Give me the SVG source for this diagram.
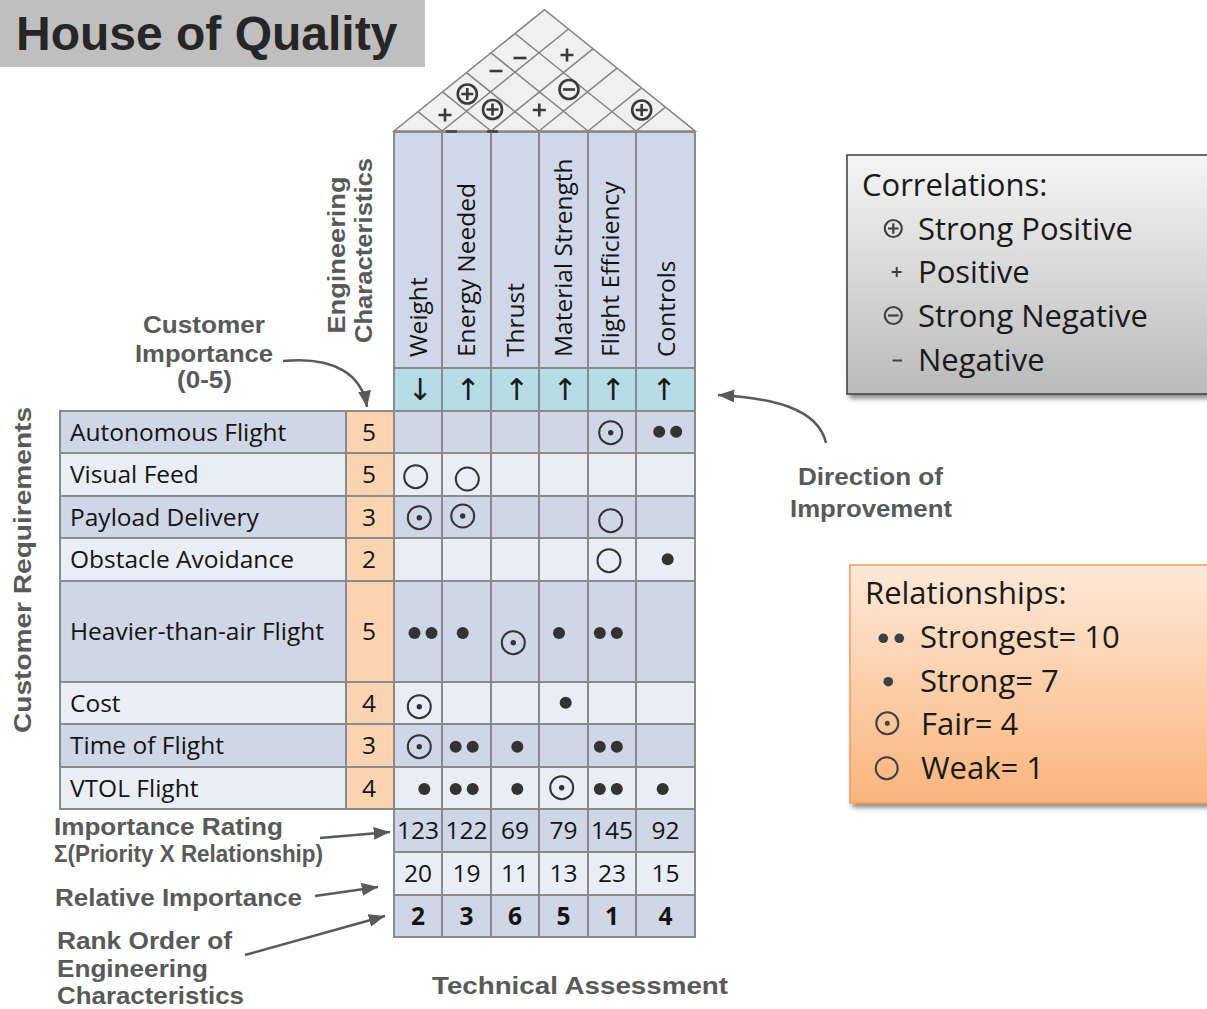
<svg xmlns="http://www.w3.org/2000/svg" width="1207" height="1009" viewBox="0 0 1207 1009">
<defs>
<style>
.grid{stroke:#8a8a8a;stroke-width:2;fill:none}
.dark{fill:#cfd6e6}
.light{fill:#e9edf5}
.peach{fill:#fcd3b1}
.t{font-family:"Open Sans","Noto Sans","DejaVu Sans",sans-serif;font-size:24.5px;fill:#141414}
.num{text-anchor:middle}
.b{font-weight:bold}
.lbl{font-family:"Liberation Sans",Arial,sans-serif;font-weight:bold;font-size:24px;fill:#595959}
.mid{text-anchor:middle}
.leg{font-family:"Open Sans","Noto Sans",sans-serif;font-size:31px;fill:#1a1a1a}
.sym{fill:none;stroke:#333;stroke-width:2}
.sdot{fill:#333}
.conn{fill:none;stroke:#595959;stroke-width:2.5;marker-end:url(#ah)}
.roof{fill:#f0f0f0;stroke:#858585;stroke-width:1.6}
.rl{stroke:#858585;stroke-width:1.6;fill:none}
.rs{fill:none;stroke:#3a3a3a;stroke-width:2.6}
.ls{fill:none;stroke:#404040;stroke-width:2.2}
.arr{font-family:"DejaVu Sans",sans-serif;font-size:30px;fill:#1a1a1a;text-anchor:middle}
</style>
<marker id="ah" viewBox="0 0 10 8" refX="10" refY="4" markerWidth="6.5" markerHeight="5.2" orient="auto" markerUnits="strokeWidth"><path d="M0,0 L10,4 L0,8 z" fill="#595959"/></marker>
<linearGradient id="gg" x1="0" y1="0" x2="0" y2="1"><stop offset="0" stop-color="#f5f5f5"/><stop offset="1" stop-color="#bababa"/></linearGradient>
<linearGradient id="og" x1="0" y1="0" x2="0" y2="1"><stop offset="0" stop-color="#fde9d9"/><stop offset="1" stop-color="#fab47c"/></linearGradient>
<filter id="sh" x="-5%" y="-5%" width="115%" height="120%"><feDropShadow dx="3" dy="4" stdDeviation="2.5" flood-color="#000" flood-opacity="0.45"/></filter>
<g id="fair"><circle r="11.5" class="sym"/><circle r="2.7" class="sdot"/></g>
<circle id="weak" r="11.5" class="sym"/>
<circle id="dot" r="6" class="sdot"/>
<g id="dots"><circle cx="-8.5" r="6" class="sdot"/><circle cx="8.5" r="6" class="sdot"/></g>
<g id="splus"><circle r="9.5" class="rs"/><path d="M-6,0H6M0,-6V6" class="rs"/></g>
<g id="sminus"><circle r="9.5" class="rs"/><path d="M-6,0H6" class="rs"/></g>
<path id="plus" d="M-6.5,0H6.5M0,-6.5V6.5" class="rs"/>
<path id="minus" d="M-6.5,0H6.5" class="rs"/>
</defs>

<rect width="1207" height="1009" fill="#ffffff"/>

<g id="title">
<rect x="0" y="0" width="425" height="67" fill="#bfbfbf"/>
<text x="16" y="50" font-family="Liberation Sans, Arial, sans-serif" font-weight="bold" font-size="48" fill="#262626">House of Quality</text>
</g>

<g id="roof">
<polygon points="394,131 544.5,9.7 695,131" class="roof"/>
<path class="rl" d="M442,131L568.5,29M491,131L593,48.8M539,131L617,68.1M588,131L641.5,87.9M636,131L665.5,107.2M442,131L418,111.7M491,131L442.5,91.9M539,131L466.5,72.6M588,131L491,52.8M636,131L515,33.5"/>
<use href="#splus" x="467.3" y="94"/>
<use href="#splus" x="492.5" y="109.5"/>
<use href="#plus" x="445" y="115"/>
<use href="#minus" x="496" y="71"/>
<use href="#minus" x="520" y="58"/>
<use href="#plus" x="567" y="55"/>
<use href="#sminus" x="569" y="89.5"/>
<use href="#plus" x="539.3" y="110"/>
<use href="#splus" x="641.7" y="110"/>
</g>

<g id="engineering-characteristics">
<rect x="394" y="132" width="301" height="236" fill="#d0d7e8"/>
<rect x="394" y="368" width="301" height="43" fill="#b6dde6"/>
<text class="t" transform="translate(426.5,357) rotate(-90)">Weight</text>
<text class="t" transform="translate(475,357) rotate(-90)">Energy Needed</text>
<text class="t" transform="translate(523.5,357) rotate(-90)">Thrust</text>
<text class="t" transform="translate(571.5,357) rotate(-90)">Material Strength</text>
<text class="t" transform="translate(619,357) rotate(-90)">Flight Efficiency</text>
<text class="t" transform="translate(674.5,357) rotate(-90)">Controls</text>
<text class="arr" x="420" y="399.5">↓</text>
<text class="arr" x="468" y="399.5">↑</text>
<text class="arr" x="516.5" y="399.5">↑</text>
<text class="arr" x="565" y="399.5">↑</text>
<text class="arr" x="613" y="399.5">↑</text>
<text class="arr" x="664" y="399.5">↑</text>
</g>

<g id="req-autonomous-flight">
<rect x="60" y="411" width="286" height="42" class="dark"/>
<rect x="346" y="411" width="48" height="42" class="peach"/>
<rect x="394" y="411" width="301" height="42" class="dark"/>
<text x="70" y="440.5" class="t">Autonomous Flight</text>
<text x="369" y="440.5" class="t num">5</text>
<use href="#fair" x="610.7" y="432.7"/>
<use href="#dots" x="667.7" y="431.7"/>
</g>
<g id="req-visual-feed">
<rect x="60" y="453" width="286" height="43" class="light"/>
<rect x="346" y="453" width="48" height="43" class="peach"/>
<rect x="394" y="453" width="301" height="43" class="light"/>
<text x="70" y="483" class="t">Visual Feed</text>
<text x="369" y="483" class="t num">5</text>
<use href="#weak" x="415.7" y="476.7"/>
<use href="#weak" x="467.3" y="479"/>
</g>
<g id="req-payload-delivery">
<rect x="60" y="496" width="286" height="42" class="dark"/>
<rect x="346" y="496" width="48" height="42" class="peach"/>
<rect x="394" y="496" width="301" height="42" class="dark"/>
<text x="70" y="525.5" class="t">Payload Delivery</text>
<text x="369" y="525.5" class="t num">3</text>
<use href="#fair" x="419.3" y="517.7"/>
<use href="#fair" x="462.7" y="516"/>
<use href="#weak" x="610.7" y="520.7"/>
</g>
<g id="req-obstacle-avoidance">
<rect x="60" y="538" width="286" height="43" class="light"/>
<rect x="346" y="538" width="48" height="43" class="peach"/>
<rect x="394" y="538" width="301" height="43" class="light"/>
<text x="70" y="568" class="t">Obstacle Avoidance</text>
<text x="369" y="568" class="t num">2</text>
<use href="#weak" x="609" y="560.7"/>
<use href="#dot" x="667.7" y="559.3"/>
</g>
<g id="req-heavier-than-air-flight">
<rect x="60" y="581" width="286" height="101" class="dark"/>
<rect x="346" y="581" width="48" height="101" class="peach"/>
<rect x="394" y="581" width="301" height="101" class="dark"/>
<text x="70" y="640" class="t">Heavier-than-air Flight</text>
<text x="369" y="640" class="t num">5</text>
<use href="#dots" x="423" y="633"/>
<use href="#dot" x="462.7" y="633"/>
<use href="#fair" x="513.3" y="642.7"/>
<use href="#dot" x="559" y="633"/>
<use href="#dots" x="608.3" y="633"/>
</g>
<g id="req-cost">
<rect x="60" y="682" width="286" height="42" class="light"/>
<rect x="346" y="682" width="48" height="42" class="peach"/>
<rect x="394" y="682" width="301" height="42" class="light"/>
<text x="70" y="711.5" class="t">Cost</text>
<text x="369" y="711.5" class="t num">4</text>
<use href="#fair" x="419.3" y="706.7"/>
<use href="#dot" x="565.7" y="702.7"/>
</g>
<g id="req-time-of-flight">
<rect x="60" y="724" width="286" height="43" class="dark"/>
<rect x="346" y="724" width="48" height="43" class="peach"/>
<rect x="394" y="724" width="301" height="43" class="dark"/>
<text x="70" y="754" class="t">Time of Flight</text>
<text x="369" y="754" class="t num">3</text>
<use href="#fair" x="419.3" y="746.7"/>
<use href="#dots" x="464.2" y="746.7"/>
<use href="#dot" x="517.3" y="746.7"/>
<use href="#dots" x="608.3" y="746.7"/>
</g>
<g id="req-vtol-flight">
<rect x="60" y="767" width="286" height="42" class="light"/>
<rect x="346" y="767" width="48" height="42" class="peach"/>
<rect x="394" y="767" width="301" height="42" class="light"/>
<text x="70" y="796.5" class="t">VTOL Flight</text>
<text x="369" y="796.5" class="t num">4</text>
<use href="#dot" x="424.3" y="789"/>
<use href="#dots" x="464.2" y="789"/>
<use href="#dot" x="517.3" y="789"/>
<use href="#fair" x="561.7" y="787.7"/>
<use href="#dots" x="608.3" y="789"/>
<use href="#dot" x="662.7" y="789"/>
</g>

<g id="importance-rating-row">
<rect x="394" y="809" width="301" height="43" class="dark"/>
<text class="t num" x="418" y="839">123</text>
<text class="t num" x="466.5" y="839">122</text>
<text class="t num" x="515" y="839">69</text>
<text class="t num" x="563.5" y="839">79</text>
<text class="t num" x="612" y="839">145</text>
<text class="t num" x="665.5" y="839">92</text>
</g>
<g id="relative-importance-row">
<rect x="394" y="852" width="301" height="43" class="light"/>
<text class="t num" x="418" y="882">20</text>
<text class="t num" x="466.5" y="882">19</text>
<text class="t num" x="515" y="882">11</text>
<text class="t num" x="563.5" y="882">13</text>
<text class="t num" x="612" y="882">23</text>
<text class="t num" x="665.5" y="882">15</text>
</g>
<g id="rank-order-row">
<rect x="394" y="895" width="301" height="42" class="dark"/>
<text class="t num b" x="418" y="924.5">2</text>
<text class="t num b" x="466.5" y="924.5">3</text>
<text class="t num b" x="515" y="924.5">6</text>
<text class="t num b" x="563.5" y="924.5">5</text>
<text class="t num b" x="612" y="924.5">1</text>
<text class="t num b" x="665.5" y="924.5">4</text>
</g>

<g id="grid" class="grid">
<rect x="394" y="132" width="301" height="805"/>
<rect x="60" y="411" width="334" height="398"/>
<path d="M346,411V809M442,132V937M491,132V937M539,132V937M588,132V937M636,132V937M394,368H695M394,411H695M60,453H695M60,496H695M60,538H695M60,581H695M60,682H695M60,724H695M60,767H695M60,809H695M394,852H695M394,895H695"/>
</g>
<path d="M446,131.5H457M487,131.5H498" stroke="#444" stroke-width="2.5"/>

<g id="labels">
<text class="lbl mid" x="204" y="333" textLength="122" lengthAdjust="spacingAndGlyphs">Customer</text>
<text class="lbl mid" x="204" y="362" textLength="138" lengthAdjust="spacingAndGlyphs">Importance</text>
<text class="lbl mid" x="204.5" y="388" textLength="55" lengthAdjust="spacingAndGlyphs">(0-5)</text>
<text class="lbl mid" transform="translate(345,255) rotate(-90)" textLength="157" lengthAdjust="spacingAndGlyphs">Engineering</text>
<text class="lbl mid" transform="translate(372,250.5) rotate(-90)" textLength="185" lengthAdjust="spacingAndGlyphs">Characteristics</text>
<text class="lbl mid" transform="translate(31,570) rotate(-90)" font-size="27" textLength="326" lengthAdjust="spacingAndGlyphs">Customer Requirements</text>
<text class="lbl mid" x="870.5" y="485" textLength="145" lengthAdjust="spacingAndGlyphs">Direction of</text>
<text class="lbl mid" x="871" y="517" textLength="162" lengthAdjust="spacingAndGlyphs">Improvement</text>
<text class="lbl" x="54" y="835" textLength="229" lengthAdjust="spacingAndGlyphs">Importance Rating</text>
<text class="lbl" x="54" y="862" font-size="20" textLength="269" lengthAdjust="spacingAndGlyphs">Σ(Priority X Relationship)</text>
<text class="lbl" x="55" y="906" textLength="247" lengthAdjust="spacingAndGlyphs">Relative Importance</text>
<text class="lbl" x="57" y="949" textLength="175" lengthAdjust="spacingAndGlyphs">Rank Order of</text>
<text class="lbl" x="57" y="977" textLength="151" lengthAdjust="spacingAndGlyphs">Engineering</text>
<text class="lbl" x="57" y="1004" textLength="187" lengthAdjust="spacingAndGlyphs">Characteristics</text>
<text class="lbl" x="432" y="994" font-size="26" textLength="296" lengthAdjust="spacingAndGlyphs">Technical Assessment</text>
</g>

<g id="connectors">
<path class="conn" d="M283,361 C335,356 362,375 367,407"/>
<path class="conn" d="M826,443 C818,408 772,398 718,395"/>
<path class="conn" d="M320,838 L390,832"/>
<path class="conn" d="M315,896 L378,887"/>
<path class="conn" d="M245,955 L385,916"/>
</g>

<g id="legend-correlations">
<rect x="847" y="155" width="370" height="239" fill="url(#gg)" stroke="#3c3c3c" stroke-width="1.5" filter="url(#sh)"/>
<text class="leg" x="862" y="196">Correlations:</text>
<g class="ls">
<circle cx="893.3" cy="228.5" r="8.5"/><path d="M888,228.5H898.6M893.3,223.2V233.8"/>
<path d="M891.7,272H901.7M896.7,267V277" stroke-width="2"/>
<circle cx="893.3" cy="315.5" r="8.5"/><path d="M888,315.5H898.6"/>
<path d="M892.5,360.5H902" stroke-width="2"/>
</g>
<text class="leg" x="918" y="239.5">Strong Positive</text>
<text class="leg" x="918" y="283">Positive</text>
<text class="leg" x="918" y="326.5">Strong Negative</text>
<text class="leg" x="918" y="371">Negative</text>
</g>

<g id="legend-relationships">
<rect x="850" y="565" width="370" height="238" fill="url(#og)" stroke="#f29b5c" stroke-width="1.5" filter="url(#sh)"/>
<text class="leg" x="865" y="604">Relationships:</text>
<circle cx="883.3" cy="638.3" r="4.8" fill="#404040"/>
<circle cx="899.3" cy="638.3" r="4.8" fill="#404040"/>
<circle cx="888.3" cy="681.7" r="4.8" fill="#404040"/>
<circle cx="887.3" cy="723.3" r="11" fill="none" stroke="#404040" stroke-width="2"/>
<circle cx="887.3" cy="723.3" r="2.5" fill="#404040"/>
<circle cx="886.7" cy="768.3" r="11" fill="none" stroke="#404040" stroke-width="2"/>
<text class="leg" x="920" y="648">Strongest= 10</text>
<text class="leg" x="920" y="692">Strong= 7</text>
<text class="leg" x="921" y="734.5">Fair= 4</text>
<text class="leg" x="921" y="779">Weak= 1</text>
</g>
</svg>
